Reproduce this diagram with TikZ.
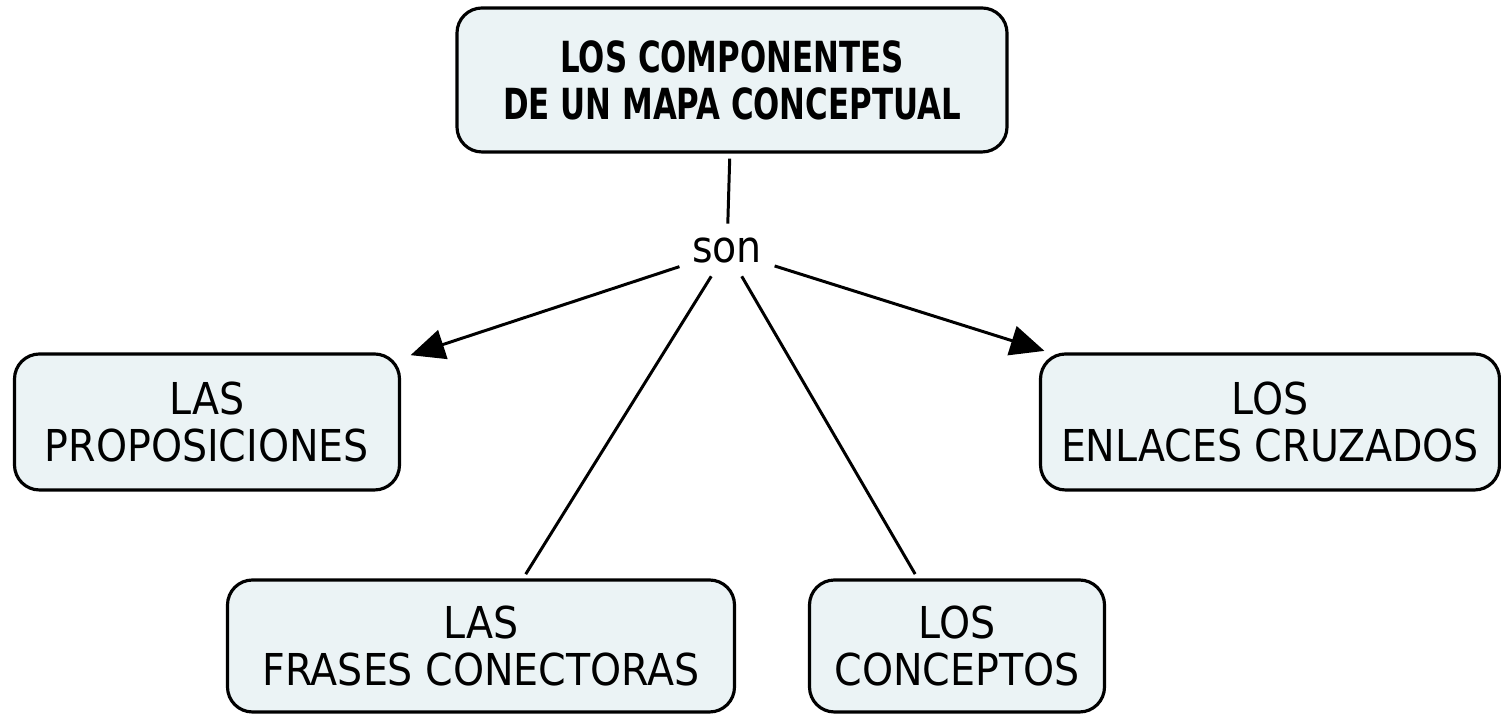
\documentclass[tikz,border=0pt]{standalone}
\usepackage{fontspec}
\setmainfont{DejaVu Sans Condensed}
\newfontfamily\titlefont[FakeStretch=0.8]{DejaVu Sans Condensed}
\usetikzlibrary{arrows.meta,calc}
\definecolor{boxfill}{HTML}{EBF3F5}
\tikzset{
  concept/.style={draw=black, line width=0.9pt, fill=boxfill, rounded corners=0.25cm,
    align=center, font=\fontsize{12.5}{13.4}\selectfont, inner sep=0pt},
  link/.style={line width=0.85pt, draw=black},
  arr/.style={link, -{Triangle[length=0.34cm,width=0.3cm]}},
}
\begin{document}
\begin{tikzpicture}
\useasboundingbox (0,0) rectangle (15.01,7.14);
\node[concept, minimum width=5.5cm, minimum height=1.44cm, font=\fontsize{12.2}{13.4}\selectfont\titlefont\bfseries] (title) at (7.32,6.34) {LOS COMPONENTES\\DE UN MAPA CONCEPTUAL};
\node[font=\fontsize{12.5}{13.4}\selectfont, inner sep=0.12cm] (son) at (7.27,4.63) {son};
\node[concept, minimum width=3.85cm, minimum height=1.36cm] (prop) at (2.07,2.92) {LAS\\PROPOSICIONES};
\node[concept, minimum width=4.59cm, minimum height=1.36cm] (enl) at (12.70,2.92) {LOS\\ENLACES CRUZADOS};
\node[concept, minimum width=5.07cm, minimum height=1.32cm] (fra) at (4.81,0.68) {LAS\\FRASES CONECTORAS};
\node[concept, minimum width=2.95cm, minimum height=1.32cm] (con) at (9.57,0.68) {LOS\\CONCEPTOS};
\draw[link, shorten <=0.05cm, shorten >=0.02cm] (title) -- (son);
\draw[arr, shorten >=0.1cm] (son) -- (prop);
\draw[arr, shorten >=0.05cm] (son) -- (enl);
\draw[link, shorten >=0.05cm] (son) -- (fra);
\draw[link, shorten >=0.05cm] (son) -- (con);
\end{tikzpicture}
\end{document}
